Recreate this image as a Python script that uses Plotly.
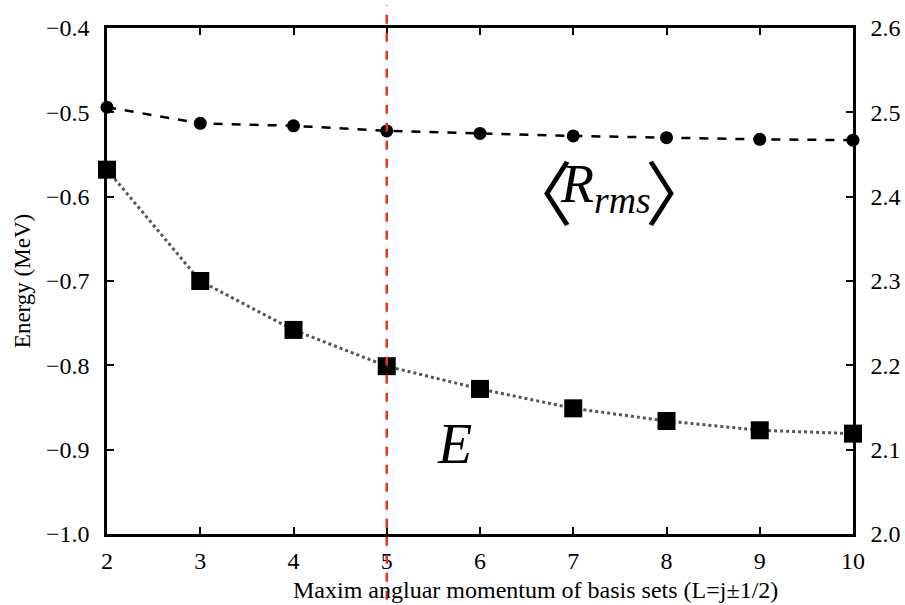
import plotly.graph_objects as go

L_values = [2, 3, 4, 5, 6, 7, 8, 9, 10]
energy = [-0.568, -0.700, -0.758, -0.801, -0.828, -0.851, -0.866, -0.877, -0.881]
rrms = [2.506, 2.487, 2.484, 2.478, 2.475, 2.472, 2.470, 2.468, 2.467]
left_ticks = [-1.0, -0.9, -0.8, -0.7, -0.6, -0.5, -0.4]
left_ticktext = ["−1.0", "−0.9", "−0.8", "−0.7", "−0.6", "−0.5", "−0.4"]
right_ticks = [2.0, 2.1, 2.2, 2.3, 2.4, 2.5, 2.6]
right_ticktext = ["2.0", "2.1", "2.2", "2.3", "2.4", "2.5", "2.6"]
x_ticks = [2, 3, 4, 5, 6, 7, 8, 9, 10]
cut_L = 5
x_title = "Maxim angluar momentum of basis sets (L=j±1/2)"

FONT = "Liberation Serif"

fig = go.Figure()
fig.add_trace(go.Scatter(
    x=L_values, y=energy, mode="lines+markers",
    line=dict(color="#555555", width=3, dash="dot"),
    marker=dict(symbol="square", size=18, color="black"),
    yaxis="y", showlegend=False, cliponaxis=False))
fig.add_trace(go.Scatter(
    x=L_values, y=rrms, mode="lines+markers",
    line=dict(color="black", width=2.5, dash="dash"),
    marker=dict(symbol="circle", size=13, color="black"),
    yaxis="y2", showlegend=False, cliponaxis=False))

fig.add_shape(type="line", xref="x", yref="paper", x0=cut_L, x1=cut_L,
              y0=-0.13, y1=1.045, line=dict(color="#e8341c", width=2.5, dash="dash"))

# <R_rms> label
fig.add_annotation(x=6.77, y=2.408, xref="x", yref="y2", text="〈", showarrow=False,
                   xshift=-14, font=dict(family="Noto Sans CJK SC", size=70, color="black"))
fig.add_annotation(x=7.35, y=2.411, xref="x", yref="y2",
                   text="<i>R</i><sub><i>rms</i></sub>", showarrow=False,
                   font=dict(family=FONT, size=54, color="black"))
fig.add_annotation(x=7.94, y=2.408, xref="x", yref="y2", text="〉", showarrow=False,
                   xshift=19, font=dict(family="Noto Sans CJK SC", size=70, color="black"))
fig.add_annotation(x=5.73, y=-0.893, xref="x", yref="y",
                   text="<i>E</i>", showarrow=False,
                   font=dict(family=FONT, size=56, color="black"))

# x-axis title (offset to the right, as in the original)
fig.add_annotation(x=0.574, y=-0.111, xref="paper", yref="paper", text=x_title,
                   showarrow=False, xanchor="center", yanchor="middle",
                   font=dict(family=FONT, size=24, color="black"))

fig.update_layout(
    width=905, height=605,
    margin=dict(l=107, r=52, t=28, b=71, autoexpand=False),
    paper_bgcolor="white", plot_bgcolor="white",
    font=dict(family=FONT, color="black", size=24),
    xaxis=dict(range=[2, 10], tickvals=x_ticks, ticks="inside", ticklen=7,
               tickwidth=2, tickcolor="black", showline=True, linecolor="black",
               linewidth=2.5, mirror="ticks", showgrid=False, zeroline=False,
               ticklabelstandoff=3, automargin=False,
               tickfont=dict(size=24, family=FONT, color="black")),
    yaxis=dict(range=[-1.0, -0.4], tickvals=left_ticks, ticktext=left_ticktext,
               ticks="inside", ticklen=7, tickwidth=2, tickcolor="black",
               showline=True, linecolor="black", linewidth=2.5, showgrid=False,
               zeroline=False, ticklabelstandoff=10, automargin=False,
               tickfont=dict(size=24, family=FONT, color="black"),
               title=dict(text="Energy (MeV)", font=dict(size=23, family=FONT, color="black"),
                          standoff=9)),
    yaxis2=dict(range=[2.0, 2.6], tickvals=right_ticks, ticktext=right_ticktext,
                overlaying="y", side="right", ticks="inside", ticklen=7, tickwidth=2,
                tickcolor="black", showline=True, linecolor="black", linewidth=2.5,
                showgrid=False, zeroline=False, ticklabelstandoff=10, automargin=False,
                tickfont=dict(size=24, family=FONT, color="black")),
)

fig.write_html("out.html")
